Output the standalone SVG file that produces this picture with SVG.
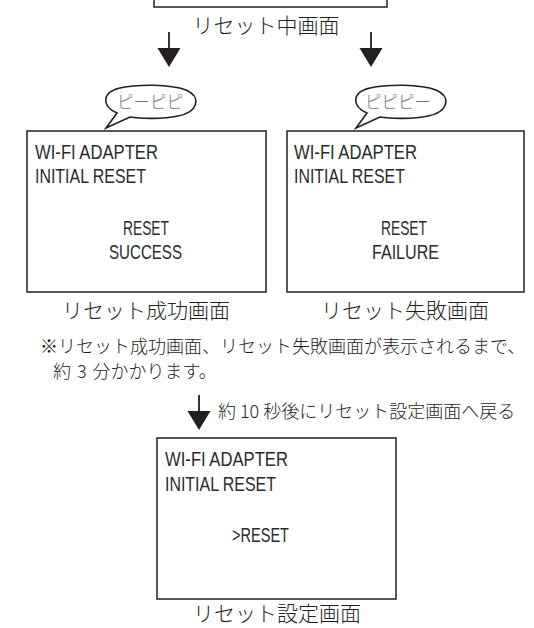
<svg xmlns="http://www.w3.org/2000/svg" width="534" height="628" viewBox="0 0 534 628">
<style>
.box{fill:#fff;stroke:#231f20;stroke-width:1.5}
.scr{font-family:"Liberation Sans Narrow","Liberation Sans",sans-serif;font-size:21px;fill:#2b2b2b}
.jp{font-family:"Noto Sans CJK JP","Noto Sans",sans-serif;font-weight:300;fill:#231f20}
.cap{font-size:21px}
.note{font-size:18px}
.bub{fill:#fff;stroke:#231f20;stroke-width:1.6}
.btxt{font-family:"Noto Sans CJK JP",sans-serif;font-weight:300;font-size:16.5px;fill:#7a7a7a}
.shaft{stroke:#231f20;stroke-width:1.8}
.head{fill:#231f20}
</style>
<defs>
<g id="arrow">
<line class="shaft" x1="0" y1="0" x2="0" y2="17"/>
<polygon class="head" points="-11.5,16 11.5,16 0,35"/>
</g>
</defs>
<g id="node-top">
<rect class="box" x="154" y="-100" width="233" height="107"/>
<text class="jp cap" x="266" y="33" text-anchor="middle">リセット中画面</text>
</g>
<g id="connectors">
<use href="#arrow" x="169" y="32"/>
<use href="#arrow" x="371" y="32"/>
<use href="#arrow" x="199" y="395"/>
</g>
<g id="bubble-left">
<path class="bub" d="M117,113 C101,106 102,92 120,88 C138,84 170,84 186,90 C202,97 198,112 178,116 C163,119 142,119 130,117 L106,128 Z"/>
<text class="btxt" x="150" y="108" text-anchor="middle">ピーピピ</text>
</g>
<g id="bubble-right">
<path class="bub" d="M367,113 C351,106 352,92 370,88 C388,84 420,84 436,90 C452,97 448,112 428,116 C413,119 392,119 380,117 L356,128 Z"/>
<text class="btxt" x="398" y="108" text-anchor="middle">ピピピー</text>
</g>
<g id="node-success">
<rect class="box" x="27" y="131" width="239" height="161"/>
<text class="scr" x="35" y="159" textLength="123" lengthAdjust="spacingAndGlyphs">WI-FI ADAPTER</text>
<text class="scr" x="35" y="183" textLength="111" lengthAdjust="spacingAndGlyphs">INITIAL RESET</text>
<text class="scr" x="123" y="235" textLength="46" lengthAdjust="spacingAndGlyphs">RESET</text>
<text class="scr" x="109" y="259" textLength="73" lengthAdjust="spacingAndGlyphs">SUCCESS</text>
<text class="jp cap" x="146" y="318" text-anchor="middle">リセット成功画面</text>
</g>
<g id="node-failure">
<rect class="box" x="287" y="131" width="237" height="161"/>
<text class="scr" x="294" y="159" textLength="123" lengthAdjust="spacingAndGlyphs">WI-FI ADAPTER</text>
<text class="scr" x="294" y="183" textLength="111" lengthAdjust="spacingAndGlyphs">INITIAL RESET</text>
<text class="scr" x="381" y="235" textLength="46" lengthAdjust="spacingAndGlyphs">RESET</text>
<text class="scr" x="372" y="259" textLength="67" lengthAdjust="spacingAndGlyphs">FAILURE</text>
<text class="jp cap" x="405" y="318" text-anchor="middle">リセット失敗画面</text>
</g>
<g id="note">
<text class="jp note" x="40" y="353">※リセット成功画面、リセット失敗画面が表示されるまで、</text>
<text class="jp note" x="53" y="378" word-spacing="2">約 3 分かかります。</text>
<text class="jp note" x="218" y="418">約 10 秒後にリセット設定画面へ戻る</text>
</g>
<g id="node-setting">
<rect class="box" x="157" y="438" width="239" height="161"/>
<text class="scr" x="165" y="466" textLength="123" lengthAdjust="spacingAndGlyphs">WI-FI ADAPTER</text>
<text class="scr" x="165" y="491" textLength="111" lengthAdjust="spacingAndGlyphs">INITIAL RESET</text>
<text class="scr" x="232" y="542" textLength="57" lengthAdjust="spacingAndGlyphs">&gt;RESET</text>
<text class="jp cap" x="277" y="621" text-anchor="middle">リセット設定画面</text>
</g>
</svg>
